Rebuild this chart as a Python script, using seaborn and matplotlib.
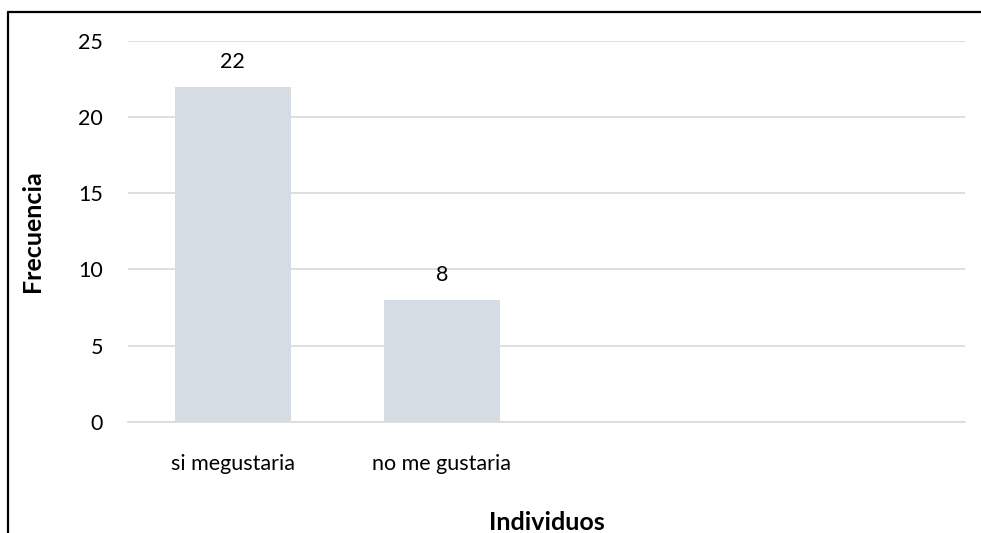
import matplotlib
matplotlib.use("Agg")
import matplotlib.pyplot as plt
from matplotlib.lines import Line2D
import seaborn as sns
import pandas as pd

categories = ["si megustaria", "no me gustaria"]
frecuencia = [22, 8]
y_ticks = [0, 5, 10, 15, 20, 25]

sns.set_style("white")
plt.rcParams["font.family"] = ["Lato", "DejaVu Sans"]
plt.rcParams["text.color"] = "black"
plt.rcParams["axes.labelcolor"] = "black"

df = pd.DataFrame({"Individuos": categories, "Frecuencia": frecuencia})

W, H = 981, 533
left, right, top, bottom = 128, 965, 41, 421.7
fig = plt.figure(figsize=(W / 100, H / 100), dpi=100)
ax = fig.add_axes([left / W, 1 - bottom / H, (right - left) / W, (bottom - top) / H])

sns.barplot(data=df, x="Individuos", y="Frecuencia", color="#D5DCE4",
            width=0.555, saturation=1, linewidth=0, ax=ax, zorder=2)

ax.set_xlim(-0.5, 3.5)
ax.set_ylim(0, 25)
ax.set_yticks(y_ticks)
ax.set_yticklabels([str(t) for t in y_ticks])
ax.tick_params(axis="both", length=0, labelsize=15.5, colors="black")
ax.tick_params(axis="y", pad=18)
ax.tick_params(axis="x", pad=23)
ax.yaxis.grid(True, color="#D9D9D9", linewidth=1.2, zorder=0)
ax.set_axisbelow(True)
for side in ["left", "right", "top"]:
    ax.spines[side].set_visible(False)
ax.spines["bottom"].set_color("#D9D9D9")
ax.spines["bottom"].set_linewidth(1.2)

for patch, val in zip(ax.patches, frecuencia):
    ax.annotate(str(val), (patch.get_x() + patch.get_width() / 2, val),
                xytext=(0, 18), textcoords="offset points",
                ha="center", va="center", fontsize=15.5, color="black")

ax.set_xlabel("Individuos", fontsize=18, fontweight="bold", color="black")
ax.set_ylabel("Frecuencia", fontsize=18, fontweight="bold", color="black")
ax.xaxis.label.set_va("center")
ax.yaxis.label.set_va("center")
ax.xaxis.set_label_coords(0.5, (bottom - 522) / (bottom - top))
ax.yaxis.set_label_coords((33 - left) / (right - left), (bottom - 231) / (bottom - top))

# outer chart frame (left and top edges)
fig.add_artist(Line2D([8 / W, 8 / W], [0, 1 - 12 / H], transform=fig.transFigure,
                      color="black", linewidth=1.6))
fig.add_artist(Line2D([8 / W, 1], [1 - 12 / H, 1 - 12 / H], transform=fig.transFigure,
                      color="black", linewidth=1.6))

fig.savefig("out.png", dpi=100)
